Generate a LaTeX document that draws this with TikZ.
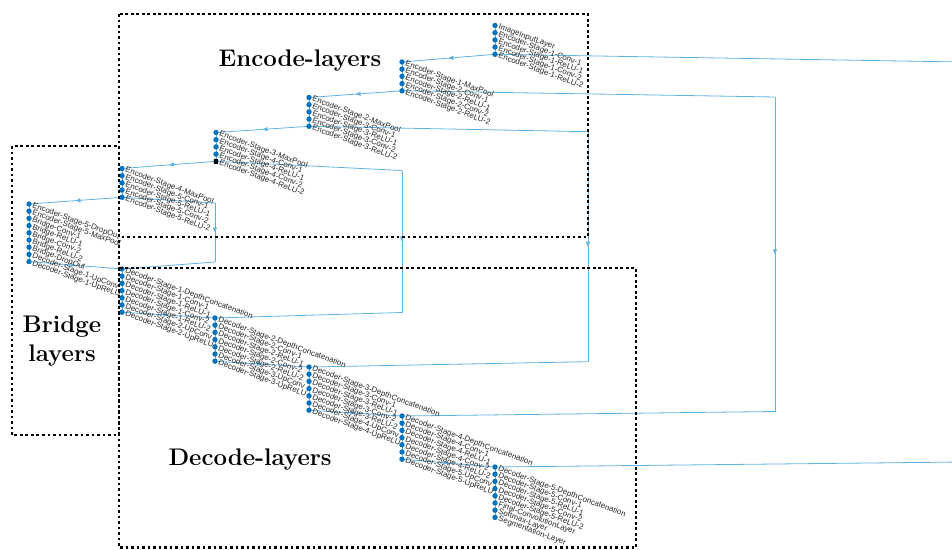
\documentclass[tikz,border=0pt]{standalone}
\usepackage{fontspec}
\newfontfamily\lblfont{Liberation Sans}
\usetikzlibrary{arrows.meta,decorations.markings}
\definecolor{dotblue}{RGB}{0,114,189}
\definecolor{edgeblue}{RGB}{95,178,228}
\pgfdeclarelayer{bg}
\pgfsetlayers{bg,main}
\tikzset{
  layerdot/.style={circle,fill=dotblue,inner sep=0pt,minimum size=5.4pt},
  selnode/.style={rectangle,fill=black,inner sep=0pt,minimum size=4.4pt},
  layerlbl/.style={anchor=west,rotate=-20,inner sep=0pt,font=\lblfont\fontsize{7.9}{8}\selectfont,text=black!85},
  edge/.style={draw=edgeblue,line width=0.8pt},
  midarrow/.style={postaction={decorate},decoration={markings,mark=at position 0.5 with {\arrow[edgeblue]{Triangle[length=5pt,width=4pt]}}}},
  groupbox/.style={draw=black,line width=2.6pt,dash pattern=on 2.6pt off 2.9pt},
  grouptitle/.style={font=\bfseries\fontsize{24}{29}\selectfont,align=center},
}
% one vertical column of layers: name, x, first y, layer names
\newcommand\layercol[4]{%
  \foreach \lbl [count=\i] in {#4} {
    \node[layerdot] (#1-\i) at (#2,{#3+7.2*(\i-1)}) {};
    \node[layerlbl] (#1-t\i) at ([shift={(3.5,1.5)}]#1-\i.center) {\lbl};
    \ifnum\i>1
      \pgfmathtruncatemacro\prev{\i-1}
      \begin{pgfonlayer}{bg}
        \draw[edge] (#1-\prev.center) -- (#1-\i.center);
      \end{pgfonlayer}
    \fi
  }%
}
\begin{document}
\begin{tikzpicture}[x=1pt,y=-1pt]
\path[use as bounding box] (0,0) rectangle (952,549);
\clip (0,0) rectangle (952,549);

% encoder columns
\layercol{c1}{495}{25.5}{ImageInputLayer,Encoder-Stage-1-Conv-1,Encoder-Stage-1-ReLU-1,Encoder-Stage-1-Conv-2,Encoder-Stage-1-ReLU-2}
\layercol{c2}{402}{62}{Encoder-Stage-1-MaxPool,Encoder-Stage-2-Conv-1,Encoder-Stage-2-ReLU-1,Encoder-Stage-2-Conv-2,Encoder-Stage-2-ReLU-2}
\layercol{c3}{309}{97.5}{Encoder-Stage-2-MaxPool,Encoder-Stage-3-Conv-1,Encoder-Stage-3-ReLU-1,Encoder-Stage-3-Conv-2,Encoder-Stage-3-ReLU-2}
\layercol{c4}{216}{132.5}{Encoder-Stage-3-MaxPool,Encoder-Stage-4-Conv-1,Encoder-Stage-4-ReLU-1,Encoder-Stage-4-Conv-2,Encoder-Stage-4-ReLU-2}
\layercol{c5}{122}{168.5}{Encoder-Stage-4-MaxPool,Encoder-Stage-5-Conv-1,Encoder-Stage-5-ReLU-1,Encoder-Stage-5-Conv-2,Encoder-Stage-5-ReLU-2}
% bridge column
\layercol{c6}{29}{204}{Encoder-Stage-5-DropOut,Encoder-Stage-5-MaxPool,Bridge-Conv-1,Bridge-ReLU-1,Bridge-Conv-2,Bridge-ReLU-2,Bridge-DropOut,Decoder-Stage-1-UpConv,Decoder-Stage-1-UpReLU}
% decoder columns
\layercol{c7}{122}{269}{Decoder-Stage-1-DepthConcatenation,Decoder-Stage-1-Conv-1,Decoder-Stage-1-ReLU-1,Decoder-Stage-1-Conv-2,Decoder-Stage-1-ReLU-2,Decoder-Stage-2-UpConv,Decoder-Stage-2-UpReLU}
\layercol{c8}{215}{318}{Decoder-Stage-2-DepthConcatenation,Decoder-Stage-2-Conv-1,Decoder-Stage-2-ReLU-1,Decoder-Stage-2-Conv-2,Decoder-Stage-2-ReLU-2,Decoder-Stage-3-UpConv,Decoder-Stage-3-UpReLU}
\layercol{c9}{309}{367}{Decoder-Stage-3-DepthConcatenation,Decoder-Stage-3-Conv-1,Decoder-Stage-3-ReLU-1,Decoder-Stage-3-Conv-2,Decoder-Stage-3-ReLU-2,Decoder-Stage-4-UpConv,Decoder-Stage-4-UpReLU}
\layercol{c10}{402}{416}{Decoder-Stage-4-DepthConcatenation,Decoder-Stage-4-Conv-1,Decoder-Stage-4-ReLU-1,Decoder-Stage-4-Conv-2,Decoder-Stage-4-ReLU-2,Decoder-Stage-5-UpConv,Decoder-Stage-5-UpReLU}
\layercol{c11}{495}{467}{Decoder-Stage-5-DepthConcatenation,Decoder-Stage-5-Conv-1,Decoder-Stage-5-ReLU-1,Decoder-Stage-5-Conv-2,Decoder-Stage-5-ReLU-2,Final-ConvolutionLayer,Softmax-Layer,Segmentation-Layer}

% currently selected layer
\node[selnode] (sel) at (c4-5) {};

% bends of the skip connections
\coordinate (s1a) at (962,62);   \coordinate (s1b) at (962,462);
\coordinate (s2a) at (775,97);   \coordinate (s2b) at (775,411.5);
\coordinate (s3a) at (588,131.7); \coordinate (s3b) at (588,361.7);
\coordinate (s4a) at (402,170.5); \coordinate (s4b) at (402,312.5);
\coordinate (s5a) at (215,203);  \coordinate (s5b) at (215,262);

\begin{pgfonlayer}{bg}
  % main chain between columns
  \draw[edge,midarrow] (c1-5.center) -- (c2-1.center);
  \draw[edge,midarrow] (c2-5.center) -- (c3-1.center);
  \draw[edge,midarrow] (c3-5.center) -- (c4-1.center);
  \draw[edge,midarrow] (c4-5.center) -- (c5-1.center);
  \draw[edge,midarrow] (c5-5.center) -- (c6-1.center);
  \draw[edge,midarrow] (c6-9.center) -- (c7-1.center);
  \draw[edge,midarrow] (c7-7.center) -- (c8-1.center);
  \draw[edge,midarrow] (c8-7.center) -- (c9-1.center);
  \draw[edge,midarrow] (c9-7.center) -- (c10-1.center);
  \draw[edge,midarrow] (c10-7.center) -- (c11-1.center);
  % skip connections
  \draw[edge] (c1-5.center) -- (s1a);
  \draw[edge,midarrow] (s1a) -- (s1b);
  \draw[edge] (s1b) -- (c11-1.center);
  \draw[edge] (c2-5.center) -- (s2a);
  \draw[edge,midarrow] (s2a) -- (s2b);
  \draw[edge] (s2b) -- (c10-1.center);
  \draw[edge] (c3-5.center) -- (s3a);
  \draw[edge,midarrow] (s3a) -- (s3b);
  \draw[edge] (s3b) -- (c9-1.center);
  \draw[edge] (c4-5.center) -- (s4a);
  \draw[edge,midarrow] (s4a) -- (s4b);
  \draw[edge] (s4b) -- (c8-1.center);
  \draw[edge] (c5-5.center) -- (s5a);
  \draw[edge,midarrow] (s5a) -- (s5b);
  \draw[edge] (s5b) -- (c7-1.center);
\end{pgfonlayer}

% layer groups
\draw[groupbox] (119,14) rectangle (588,237);
\draw[groupbox] (12,146) rectangle (119,435);
\draw[groupbox] (119,268) rectangle (636,547.5);

\node[grouptitle] (tenc) at (300,61) {Encode-layers};
\node[grouptitle] (tbr) at (62,341) {Bridge\\layers};
\node[grouptitle] (tdec) at (250,460) {Decode-layers};
\end{tikzpicture}
\end{document}
